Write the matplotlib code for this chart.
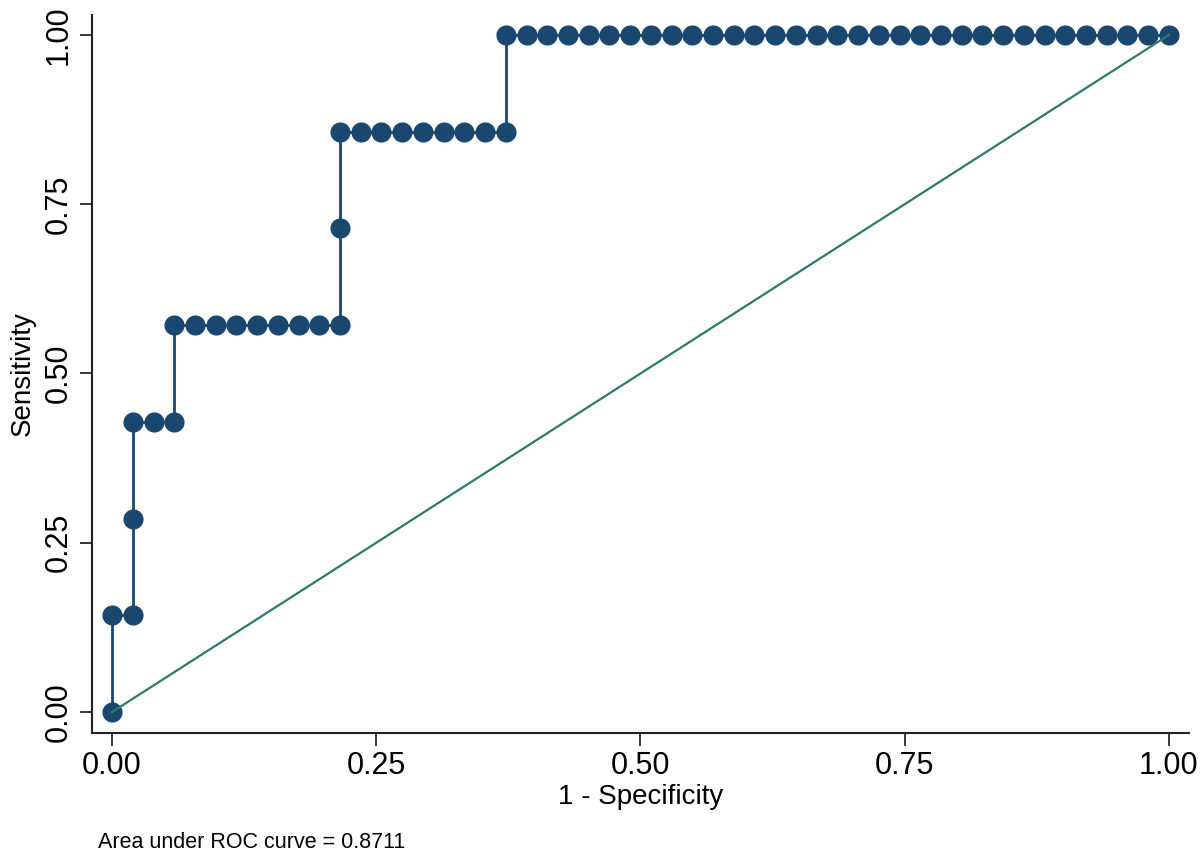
import numpy as np
import matplotlib.pyplot as plt

# ROC points: 51 negatives, 7 positives
n_neg = 51
n_pos = 7
fp_count = [0, 0, 1, 1, 1, 2, 3, 3, 4, 5, 6, 7, 8, 9, 10, 11, 11, 11,
            12, 13, 14, 15, 16, 17, 18, 19, 19,
            20, 21, 22, 23, 24, 25, 26, 27, 28, 29, 30, 31, 32, 33, 34, 35,
            36, 37, 38, 39, 40, 41, 42, 43, 44, 45, 46, 47, 48, 49, 50, 51]
tp_count = [0, 1, 1, 2, 3, 3, 3, 4, 4, 4, 4, 4, 4, 4, 4, 4, 5, 6,
            6, 6, 6, 6, 6, 6, 6, 6, 7,
            7, 7, 7, 7, 7, 7, 7, 7, 7, 7, 7, 7, 7, 7, 7, 7,
            7, 7, 7, 7, 7, 7, 7, 7, 7, 7, 7, 7, 7, 7, 7, 7]
auc = 0.8711

fpr = np.array(fp_count) / n_neg
tpr = np.array(tp_count) / n_pos

plt.rcParams['font.family'] = ['Liberation Sans', 'DejaVu Sans']

fig = plt.figure(figsize=(12.01, 8.55), dpi=100, facecolor='white')
ax = fig.add_axes([0.0766, 0.1427, 0.9134, 0.8398])

ax.plot(fpr, tpr, color='#1a476f', lw=2.0, marker='o', markersize=14.5,
        markeredgewidth=0, zorder=3)
ax.plot([0, 1], [0, 1], color='#2e7a6a', lw=1.6, zorder=4)

ax.set_xlim(-0.019, 1.019)
ax.set_ylim(-0.031, 1.0295)
ticks = [0, 0.25, 0.5, 0.75, 1.0]
ax.set_xticks(ticks)
ax.set_yticks(ticks)
ax.set_xticklabels(['%.2f' % t for t in ticks], fontsize=22)
ax.set_yticklabels(['%.2f' % t for t in ticks], fontsize=22, rotation=90, va='center')
ax.tick_params(direction='out', length=9, width=1.1, colors='black', pad=4)

for side in ['top', 'right']:
    ax.spines[side].set_visible(False)
for side in ['left', 'bottom']:
    ax.spines[side].set_linewidth(1.5)
    ax.spines[side].set_color('#222222')

ax.set_xlabel('1 - Specificity', fontsize=20, labelpad=2)
ax.set_ylabel('Sensitivity', fontsize=20, labelpad=6)

fig.text(98 / 1201, 1 - 842 / 855, 'Area under ROC curve = %.4f' % auc,
         fontsize=15.5, va='center', ha='left')

plt.savefig('out.png', dpi=100, facecolor='white')
